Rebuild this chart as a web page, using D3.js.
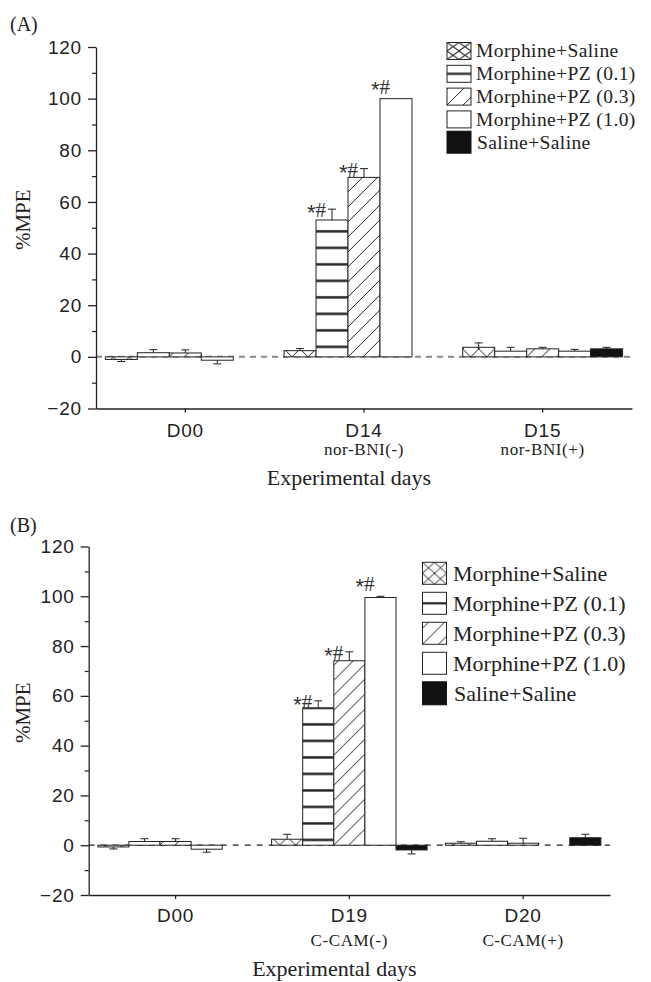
<!DOCTYPE html>
<html>
<head>
<meta charset="utf-8">
<script src="https://cdn.jsdelivr.net/npm/d3@7"></script>
<style>
  body { margin: 0; background: #fff; }
  svg { display: block; }
</style>
</head>
<body>
<div id="chart"></div>
<script>
// groups (treatments), same for both panels
const groups = ["Morphine+Saline", "Morphine+PZ (0.1)", "Morphine+PZ (0.3)", "Morphine+PZ (1.0)", "Saline+Saline"];

// panel A
const daysA = ["D00", "D14", "D15"];
const subA = ["", "nor-BNI(-)", "nor-BNI(+)"];
const meanA = [
  [-1.0, 1.6, 1.5, -1.3, null],
  [2.4, 53.0, 69.5, 100, null],
  [3.7, 2.2, 3.1, 2.2, 3.1]
];
const semA = [
  [0.8, 1.2, 1.2, 1.4, null],
  [0.8, 4.2, 3.4, 0, null],
  [1.7, 1.5, 0.6, 0.7, 0.6]
];
const sigA = [[1, 1], [1, 2], [1, 3]]; // [day index, group index] marked *#

// panel B
const daysB = ["D00", "D19", "D20"];
const subB = ["", "C-CAM(-)", "C-CAM(+)"];
const meanB = [
  [-0.7, 1.5, 1.5, -1.6, null],
  [2.4, 55.2, 74.1, 99.5, -1.9],
  [0.8, 1.6, 0.8, null, 3.0]
];
const semB = [
  [0.8, 1.1, 1.1, 1.2, null],
  [2.0, 2.8, 3.6, 0.5, 1.6],
  [0.6, 1.0, 2.0, null, 1.4]
];
const sigB = [[1, 1], [1, 2], [1, 3]];

const yTicks = [-20, 0, 20, 40, 60, 80, 100, 120];
const yMinor = [-10, 10, 30, 50, 70, 90, 110];

const W = 651, H = 982;
const SANS = "'Liberation Sans', Arial, Helvetica, sans-serif";
const SERIF = "'Liberation Serif', 'Times New Roman', serif";
const INK = "#222";
const kinds = ["cross", "hline", "diag", "white", "black"];

const svg = d3.select("#chart").append("svg")
  .attr("width", W).attr("height", H)
  .attr("viewBox", [0, 0, W, H]);
const defs = svg.append("defs");

// pattern fill, origin in user space so it lines up with a bar or a legend box
function makeFill(id, kind, ox, oy, pw, ph) {
  if (kind === "white") return "#fff";
  if (kind === "black") return "#111";
  const pat = defs.append("pattern")
    .attr("id", id)
    .attr("patternUnits", "userSpaceOnUse")
    .attr("x", ox).attr("y", oy)
    .attr("width", pw).attr("height", ph);
  pat.append("rect").attr("width", pw).attr("height", ph).attr("fill", "#fff");
  const ln = (a, b, c, d, sw) => pat.append("line")
    .attr("x1", a).attr("y1", b).attr("x2", c).attr("y2", d)
    .attr("stroke", INK).attr("stroke-width", sw);
  if (kind === "cross") {
    ln(0, 0, pw, ph, 1);
    ln(pw, 0, 0, ph, 1);
  } else if (kind === "hline") {
    ln(0, ph / 2, pw, ph / 2, 2.2);
  } else if (kind === "diag") {
    ln(-1, ph + 1, pw + 1, -1, 1);
  }
  return `url(#${id})`;
}

function drawPanel(p) {
  const g = svg.append("g");
  const y = d3.scaleLinear().domain([-20, 120]).range([p.yBot, p.yTop]);
  const x = d3.scaleBand().domain(p.days).range([p.x0, p.x1]).padding(0);
  const bw = x.bandwidth(), gw = bw * 0.895;
  const x1 = d3.scaleBand().domain(groups).range([(bw - gw) / 2, (bw + gw) / 2]).padding(0);
  const y0 = y(0);

  // dashed zero line
  g.append("line")
    .attr("x1", p.x0).attr("x2", p.x1)
    .attr("y1", y0).attr("y2", y0)
    .attr("stroke", p.zeroColor)
    .attr("stroke-width", p.zeroWidth)
    .attr("stroke-dasharray", p.zeroDash);

  // bars
  const bars = [];
  p.days.forEach((d, i) => groups.forEach((k, j) => {
    const v = p.means[i][j];
    if (v == null) return;
    bars.push({ day: d, key: k, i, j, v, e: p.sems[i][j] || 0 });
  }));
  bars.forEach(b => {
    b.x = x(b.day) + x1(b.key);
    b.w = x1.bandwidth();
    const kind = kinds[b.j];
    const id = `pat-${p.id}-${b.i}-${b.j}`;
    if (kind === "cross") b.fill = makeFill(id, kind, b.x + 8, y0, 16, 16);
    else if (kind === "hline") b.fill = makeFill(id, kind, b.x, y0 - p.hOff - 8.25, 40, 16.5);
    else if (kind === "diag") b.fill = makeFill(id, kind, b.x, y0, 15, 15);
    else b.fill = makeFill(id, kind);
  });

  g.selectAll("rect.bar")
    .data(bars)
    .join("rect")
    .attr("class", "bar")
    .attr("x", d => d.x)
    .attr("width", d => d.w)
    .attr("y", d => Math.min(y(d.v), y0))
    .attr("height", d => Math.abs(y(d.v) - y0))
    .attr("fill", d => d.fill)
    .attr("stroke", INK)
    .attr("stroke-width", 1);

  // error bars (one sided, away from zero)
  const eb = bars.filter(d => d.e > 0);
  const tip = d => y(d.v + Math.sign(d.v) * d.e);
  g.selectAll("line.err")
    .data(eb)
    .join("line")
    .attr("class", "err")
    .attr("x1", d => d.x + d.w / 2).attr("x2", d => d.x + d.w / 2)
    .attr("y1", d => y(d.v)).attr("y2", tip)
    .attr("stroke", INK).attr("stroke-width", 1);
  g.selectAll("line.cap")
    .data(eb)
    .join("line")
    .attr("class", "cap")
    .attr("x1", d => d.x + d.w / 2 - 4).attr("x2", d => d.x + d.w / 2 + 4)
    .attr("y1", tip).attr("y2", tip)
    .attr("stroke", INK).attr("stroke-width", 1);

  // significance marks
  const sig = p.sig.map(([i, j]) => bars.find(b => b.i === i && b.j === j));
  const st = g.selectAll("text.sig")
    .data(sig)
    .join("text")
    .attr("class", "sig")
    .attr("text-anchor", "end")
    .attr("x", d => d.x + d.w / 2 - 6)
    .attr("y", d => y(d.v + d.e) + (d.e > 1 ? 8 : -5))
    .attr("fill", "#333");
  st.append("tspan").attr("font-family", SANS).attr("font-size", 22).attr("dy", 3).text("*");
  st.append("tspan").attr("font-family", SERIF).attr("font-size", 21).attr("dy", -3).text("#");

  // y axis
  g.append("g")
    .attr("transform", `translate(${p.x0},0)`)
    .call(d3.axisLeft(y).tickValues(yTicks).tickSize(8).tickPadding(6).tickSizeOuter(0))
    .call(a => a.selectAll("text")
      .attr("font-family", SANS).attr("font-size", 19)
      .attr("letter-spacing", 0.8).attr("fill", INK))
    .call(a => a.selectAll("line,path").attr("stroke", INK).attr("stroke-width", 1.3));
  g.append("g")
    .attr("transform", `translate(${p.x0},0)`)
    .call(d3.axisLeft(y).tickValues(yMinor).tickSize(4).tickFormat(""))
    .call(a => a.select(".domain").remove())
    .call(a => a.selectAll("line").attr("stroke", INK).attr("stroke-width", 1.2));

  // x axis
  g.append("g")
    .attr("transform", `translate(0,${p.yBot})`)
    .call(d3.axisBottom(x).tickSize(4).tickSizeOuter(0).tickFormat(""))
    .call(a => a.selectAll("line,path").attr("stroke", INK).attr("stroke-width", 1.3));

  g.selectAll("text.day")
    .data(p.days)
    .join("text")
    .attr("class", "day")
    .attr("x", d => x(d) + bw / 2)
    .attr("y", p.yBot + p.dayDy)
    .attr("text-anchor", "middle")
    .attr("font-family", SANS).attr("font-size", 19)
    .attr("letter-spacing", 0.8).attr("fill", INK)
    .text(d => d);
  g.selectAll("text.sub")
    .data(p.days)
    .join("text")
    .attr("class", "sub")
    .attr("x", d => x(d) + bw / 2)
    .attr("y", p.yBot + p.subDy)
    .attr("text-anchor", "middle")
    .attr("font-family", SERIF).attr("font-size", 17)
    .attr("letter-spacing", 0.6).attr("fill", INK)
    .text((d, i) => p.subs[i]);
  g.append("text")
    .attr("x", x(p.days[1]) + bw / 2 - 15)
    .attr("y", p.yBot + p.titleDy)
    .attr("text-anchor", "middle")
    .attr("font-family", SERIF).attr("font-size", 22).attr("fill", INK)
    .text("Experimental days");

  // y title and panel label
  g.append("text")
    .attr("transform", `translate(30,${(p.yTop + p.yBot) / 2 - 8}) rotate(-90)`)
    .attr("text-anchor", "middle")
    .attr("font-family", SERIF).attr("font-size", 21).attr("fill", INK)
    .text("%MPE");
  g.append("text")
    .attr("x", 10).attr("y", p.labelY)
    .attr("font-family", SERIF).attr("font-size", 20).attr("fill", INK)
    .text(p.label);

  // legend
  const L = p.legend;
  const lg = g.append("g");
  groups.forEach((k, j) => {
    const cy = L.cy0 + j * L.step;
    const h = kinds[j] === "black" ? L.hBlack : L.h;
    const bx = L.x, by = cy - h / 2;
    let fill;
    const id = `leg-${p.id}-${j}`;
    if (kinds[j] === "cross") fill = makeFill(id, "cross", bx, by, L.w / 2, h / 2);
    else if (kinds[j] === "hline") fill = makeFill(id, "hline", bx, by, L.w, h);
    else if (kinds[j] === "diag") fill = makeFill(id, "diag", bx, by + h, 16, 16);
    else fill = makeFill(id, kinds[j]);
    lg.append("rect")
      .attr("x", bx).attr("y", by)
      .attr("width", L.w).attr("height", h)
      .attr("fill", fill)
      .attr("stroke", kinds[j] === "black" ? "#111" : INK)
      .attr("stroke-width", 1);
    lg.append("text")
      .attr("x", L.tx + (kinds[j] === "black" ? 1 : 0))
      .attr("y", cy + L.fs * 0.33)
      .attr("font-family", SERIF).attr("font-size", L.fs)
      .attr("letter-spacing", L.ls).attr("fill", INK)
      .text(k);
  });
}

drawPanel({
  id: "A", label: "(A)", labelY: 31,
  days: daysA, subs: subA, means: meanA, sems: semA, sig: sigA,
  x0: 96, x1: 632, yTop: 47, yBot: 408.5,
  zeroColor: "#888", zeroWidth: 2, zeroDash: "6,5", hOff: 10,
  dayDy: 28, subDy: 46, titleDy: 76,
  legend: { x: 447, tx: 476, cy0: 51, step: 22.8, w: 24, h: 17, hBlack: 22, fs: 19.5, ls: 0.4 }
});

drawPanel({
  id: "B", label: "(B)", labelY: 532,
  days: daysB, subs: subB, means: meanB, sems: semB, sig: sigB,
  x0: 88.7, x1: 610, yTop: 546.5, yBot: 895,
  zeroColor: "#222", zeroWidth: 1.2, zeroDash: "6,6", hOff: 5.3,
  dayDy: 27, subDy: 51, titleDy: 81,
  legend: { x: 422.5, tx: 453, cy0: 573.3, step: 30, w: 24, h: 22, hBlack: 23, fs: 22, ls: 0 }
});
</script>
</body>
</html>
